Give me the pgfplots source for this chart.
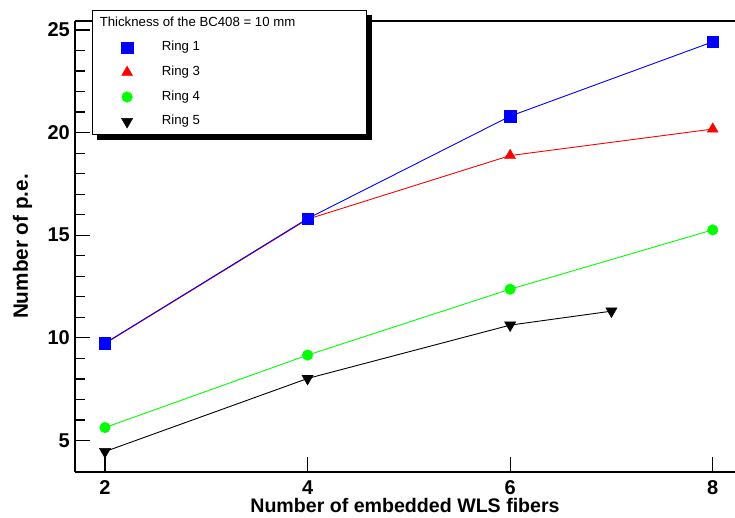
\documentclass[border=0pt]{standalone}
\usepackage{fontspec}
\setmainfont{Liberation Sans}
\usepackage{pgfplots}
\pgfplotsset{compat=1.18}
\usetikzlibrary{shadows}
\begin{document}
\begin{tikzpicture}
\useasboundingbox (-75pt,-44.7pt) rectangle (660pt,472.3pt);
\begin{axis}[
  at={(0,0)}, anchor=south west,
  scale only axis, width=660pt, height=451.6pt,
  xmin=1.704, xmax=8.22, ymin=3.45, ymax=25.45,
  axis x line*=box, axis y line*=left,
  x axis line style={-, line width=2pt},
  y axis line style={-, line width=1.5pt},
  xtick={2,4,6,8}, ytick={5,10,15,20,25},
  minor x tick num=0, minor y tick num=4,
  xtick pos=lower, ytick pos=lower, tick align=inside,
  major tick length=15pt, minor tick length=10pt,
  every tick/.style={black, line width=1.2pt},
  /pgf/number format/assume math mode=true,
  ticklabel style={font=\bfseries\fontsize{20}{24}\selectfont},
  yticklabel style={anchor=east, inner sep=0pt, xshift=-5pt},
  xticklabel style={anchor=north, inner sep=0pt, yshift=-7.5pt, text height=14.3pt, text depth=0pt},
  xlabel={Number of embedded WLS fibers},
  ylabel={Number of p.e.},
  every axis x label/.style={at={([yshift=-40pt]axis description cs:0.5,0)}, anchor=base,
    inner sep=0pt, text height=14pt, text depth=0pt,
    font=\bfseries\fontsize{19.6}{24}\selectfont},
  every axis y label/.style={at={([xshift=-47pt]axis description cs:0,0.5)}, rotate=90, anchor=base,
    font=\bfseries\fontsize{20.7}{24}\selectfont},
  legend image code/.code={\draw[#1, only marks] plot coordinates {(0pt,0pt)};},
  legend style={at={([xshift=17pt,yshift=10.7pt]axis description cs:0,1)}, anchor=north west,
    font=\fontsize{13.2}{15}\selectfont, draw=black, line width=0.8pt, fill=white,
    inner xsep=29pt, inner ysep=6.5pt, row sep=12.3pt, column sep=29pt,
    nodes={inner sep=0pt, text height=9.5pt, text depth=2.8pt},
    cells={anchor=west},
    drop shadow={shadow xshift=5pt, shadow yshift=-5pt, fill=black, opacity=1}},
  r1/.style={blue, line width=0.9pt, mark=square*, mark size=5.7pt, mark options={solid, line width=0.4pt}},
  r3/.style={red, line width=0.9pt, mark=triangle*, mark size=6.3pt, mark options={solid, line width=0.4pt}},
  r4/.style={green, line width=0.9pt, mark=*, mark size=5.3pt, mark options={solid, line width=0.4pt}},
  r5/.style={black, line width=0.9pt, mark=triangle*, mark size=6.5pt, mark options={solid, rotate=180, line width=0.4pt}},
]
\addlegendimage{empty legend}
\addlegendentry{\makebox[176pt][l]{\hspace{-62pt}Thickness of the BC408 = 10 mm}}
\addlegendimage{r1}\addlegendentry{Ring 1}
\addlegendimage{r3}\addlegendentry{Ring 3}
\addlegendimage{r4}\addlegendentry{Ring 4}
\addlegendimage{r5}\addlegendentry{Ring 5}

\addplot[r5, forget plot] coordinates {(2,4.46) (4,8.02) (6,10.62) (7,11.30)};
\addplot[r4, forget plot] coordinates {(2,5.63) (4,9.16) (6,12.37) (8,15.26)};
\addplot[r3, forget plot] coordinates {(2,9.72) (4,15.78) (6,18.88) (8,20.17)};
\addplot[r1, forget plot] coordinates {(2,9.74) (4,15.81) (6,20.80) (8,24.42)};
\end{axis}
\end{tikzpicture}
\end{document}
